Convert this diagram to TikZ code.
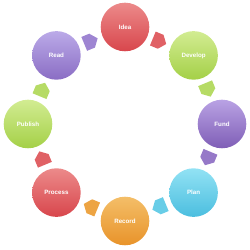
\documentclass[tikz,border=0pt]{standalone}
\usepackage{fontspec}
\setmainfont{Liberation Sans}
\usetikzlibrary{calc}
\definecolor{redT}{HTML}{EC8A8A}\definecolor{redB}{HTML}{D8464C}
\definecolor{grnT}{HTML}{D2EC92}\definecolor{grnB}{HTML}{A4D047}
\definecolor{purT}{HTML}{B9A2E4}\definecolor{purB}{HTML}{7F5EB6}
\definecolor{cyaT}{HTML}{92E2F4}\definecolor{cyaB}{HTML}{4BBEDF}
\definecolor{orgT}{HTML}{F4BE68}\definecolor{orgB}{HTML}{E8932A}
\definecolor{rdpT}{HTML}{BBAAE8}\definecolor{rdpB}{HTML}{8A6DC4}
\tikzset{
  stage/.style={circle, minimum size=48.6bp, inner sep=0pt, text=white,
    font=\fontsize{6.2bp}{7bp}\selectfont\bfseries},
  ring/.style={top color=#1T, bottom color=#1B}
}
\newcommand{\cyclearrow}[4]{% from, to, color, angle
  \fill[#3T!40!#3B, shift={($(#1)!0.5!(#2)$)}, rotate=#4]
    (-7,-7.5) -- (1.5,-7.5) -- (7.5,0) -- (1.5,7.5) -- (-7,7.5) -- cycle;
}
\begin{document}
\begin{tikzpicture}[x=1bp,y=1bp]
\useasboundingbox (0,0) rectangle (250,250);
\coordinate (c) at (125,126);
\node[stage, ring=red] (idea)    at ($(c)+(90:97)$)  {Idea};
\node[stage, ring=grn] (develop) at ($(c)+(45:97)$)  {Develop};
\node[stage, ring=pur] (fund)    at ($(c)+(0:97)$)   {Fund};
\node[stage, ring=cya] (plan)    at ($(c)+(-45:97)$) {Plan};
\node[stage, ring=org] (record)  at ($(c)+(-90:97)$) {Record};
\node[stage, ring=red] (process) at ($(c)+(-135:97)$) {Process};
\node[stage, ring=grn] (publish) at ($(c)+(180:97)$) {Publish};
\node[stage, ring=rdp] (read)    at ($(c)+(135:97)$) {Read};
\cyclearrow{idea}{develop}{red}{-22.5}
\cyclearrow{develop}{fund}{grn}{-67.5}
\cyclearrow{fund}{plan}{pur}{-112.5}
\cyclearrow{plan}{record}{cya}{-157.5}
\cyclearrow{record}{process}{org}{-202.5}
\cyclearrow{process}{publish}{red}{-247.5}
\cyclearrow{publish}{read}{grn}{-292.5}
\cyclearrow{read}{idea}{rdp}{-337.5}
\end{tikzpicture}
\end{document}
